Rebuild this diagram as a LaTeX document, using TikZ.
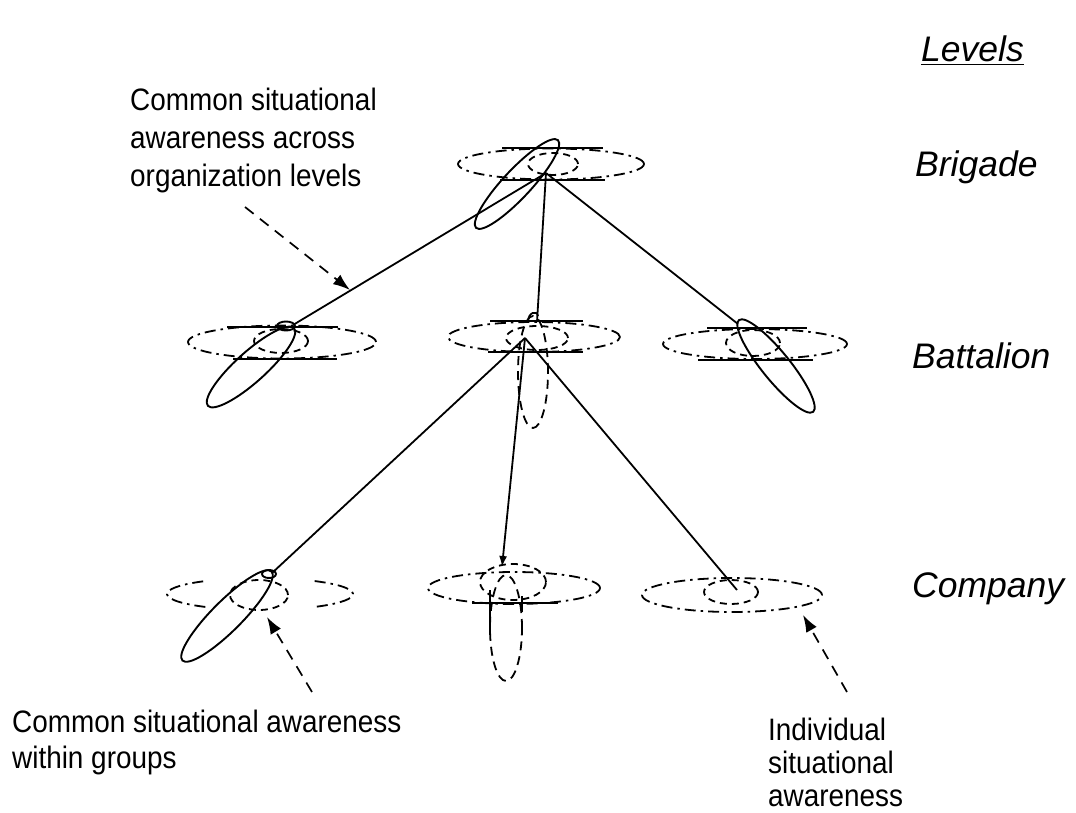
\documentclass[tikz,border=0pt]{standalone}
\usepackage{fontspec}
\setmainfont{Liberation Sans}
\newfontfamily\annfont[FakeStretch=0.9]{Liberation Sans}
\usetikzlibrary{shapes.geometric,arrows.meta}
\tikzset{
  outerdash/.style={line width=1.8pt,dash pattern=on 11pt off 5pt on 2.5pt off 5pt},
  outer/.style={ellipse,draw,inner sep=0pt,outerdash},
  innerc/.style={ellipse,draw,inner sep=0pt,line width=1.8pt,dash pattern=on 7pt off 5pt},
  leaf/.style={ellipse,draw,inner sep=0pt,line width=1.9pt},
  dleaf/.style={ellipse,draw,inner sep=0pt,line width=1.8pt,dash pattern=on 9pt off 6pt},
  bar/.style={line width=2.5pt},
  link/.style={line width=1.8pt},
  note/.style={line width=1.7pt,dash pattern=on 11pt off 8pt,-{Latex[length=17pt,width=12pt]}},
  lbl/.style={inner sep=0pt,align=left,anchor=north west},
  lvl/.style={font=\fontsize{35.5}{40}\selectfont\itshape,inner sep=0pt,anchor=base west},
}
\begin{document}
\begin{tikzpicture}[x=1pt,y=-1pt]
\fill[white] (0,0) rectangle (1076,813);
\useasboundingbox (0,0) rectangle (1076,813);

% ---------- Brigade ----------
\node[outer,minimum width=186pt,minimum height=31pt] (brig) at (551,164) {};
\draw[bar] (502,148) -- (603,148);
\draw[bar] (500,180) -- (605,180);
\node[innerc,minimum width=50pt,minimum height=22pt] (brigI) at (553,164) {};
\node[leaf,minimum width=120pt,minimum height=28pt,rotate=47] (brigL) at (517,184) {};
\coordinate (brigA) at (546,173);

% ---------- Battalion left ----------
\node[outer,minimum width=188pt,minimum height=33pt] (batL) at (282,342) {};
\draw[bar] (227,327) -- (338,327);
\draw[bar] (233,359) -- (337,359);
\node[leaf,minimum width=18pt,minimum height=9pt] (batLs) at (286,326) {};
\node[innerc,minimum width=54pt,minimum height=24pt] (batLI) at (281,341) {};
\node[leaf,minimum width=116pt,minimum height=30pt,rotate=42] (batLL) at (251,367) {};
\coordinate (batLA) at (293,325);

% ---------- Battalion middle ----------
\node[outer,minimum width=172pt,minimum height=30pt] (batM) at (534,337) {};
\draw[bar] (490,321) -- (583,321);
\draw[bar] (488,352) -- (583,352);
\node[innerc,minimum width=62pt,minimum height=24pt] (batMI) at (537,338) {};
\node[dleaf,minimum width=30pt,minimum height=112pt] (batMD) at (533,372) {};
\draw[link] (528,322) .. controls (528,312) and (537,310) .. (538,316);
\coordinate (batMT) at (537,322);
\coordinate (batMA) at (525,338);

% ---------- Battalion right ----------
\node[outer,minimum width=184pt,minimum height=30pt] (batR) at (755,344) {};
\draw[bar] (707,328) -- (807,328);
\draw[bar] (698,360) -- (813,360);
\node[innerc,minimum width=54pt,minimum height=26pt] (batRI) at (753,343) {};
\node[leaf,minimum width=118pt,minimum height=28pt,rotate=-51] (batRL) at (776,366) {};
\coordinate (batRA) at (738,324);

% ---------- Company left ----------
\coordinate (comL) at (260,594);
\draw[outerdash] (comL) ++(126:93 and 16) arc[start angle=126,end angle=234,x radius=93,y radius=16];
\draw[outerdash] (comL) ++(-54:93 and 16) arc[start angle=-54,end angle=54,x radius=93,y radius=16];
\node[innerc,minimum width=58pt,minimum height=30pt] (comLI) at (259,595) {};
\node[leaf,minimum width=126pt,minimum height=30pt,rotate=45] (comLL) at (227,616) {};
\node[leaf,minimum width=14pt,minimum height=8pt] (comLs) at (269,574) {};
\coordinate (comLA) at (272,573);

% ---------- Company middle ----------
\node[outer,minimum width=172pt,minimum height=32pt] (comM) at (514,588) {};
\draw[bar] (472,603) -- (558,603);
\node[innerc,minimum width=66pt,minimum height=36pt] (comMI) at (513,582) {};
\node[dleaf,minimum width=32pt,minimum height=106pt] (comMD) at (506,628) {};
\draw[bar] (490,590) -- (490,633);
\draw[bar] (522,596) -- (522,612);
\coordinate (comMA) at (502,567);

% ---------- Company right ----------
\node[outer,minimum width=180pt,minimum height=34pt] (comR) at (732,595) {};
\node[innerc,minimum width=54pt,minimum height=24pt] (comRI) at (731,592) {};
\coordinate (comRA) at (737,590);

% ---------- links ----------
\draw[link] (brigA) -- (batLA);
\draw[link] (brigA) -- (batMT);
\draw[link] (brigA) -- (batRA);
\draw[link] (batMA) -- (comLA);
\draw[link,-{Latex[length=11pt,width=8pt]}] (batMA) -- (comMA);
\draw[link] (batMA) -- (comRA);

% ---------- annotation arrows ----------
\coordinate (n1s) at (245,207);
\coordinate (n1e) at (350,290);
\draw[note] (n1s) -- (n1e);
\coordinate (n2s) at (312,692);
\coordinate (n2e) at (267,617);
\draw[note] (n2s) -- (n2e);
\coordinate (n3s) at (847,692);
\coordinate (n3e) at (803,615);
\draw[note] (n3s) -- (n3e);

% ---------- texts ----------
\node[lbl,font=\annfont\fontsize{31}{38}\selectfont] (t1) at (130,88) {Common situational\\awareness across\\organization levels};
\node[lbl,font=\annfont\fontsize{31}{36}\selectfont] (t2) at (12,710) {Common situational awareness\\within groups};
\node[lbl,font=\annfont\fontsize{31}{33}\selectfont] (t3) at (768,718) {Individual\\situational\\awareness};

\node[lvl] (lev) at (921,62) {\underline{Levels}};
\node[lvl] (lb1) at (915,177) {Brigade};
\node[lvl] (lb2) at (912,368) {Battalion};
\node[lvl] (lb3) at (912,597) {Company};
\end{tikzpicture}
\end{document}
